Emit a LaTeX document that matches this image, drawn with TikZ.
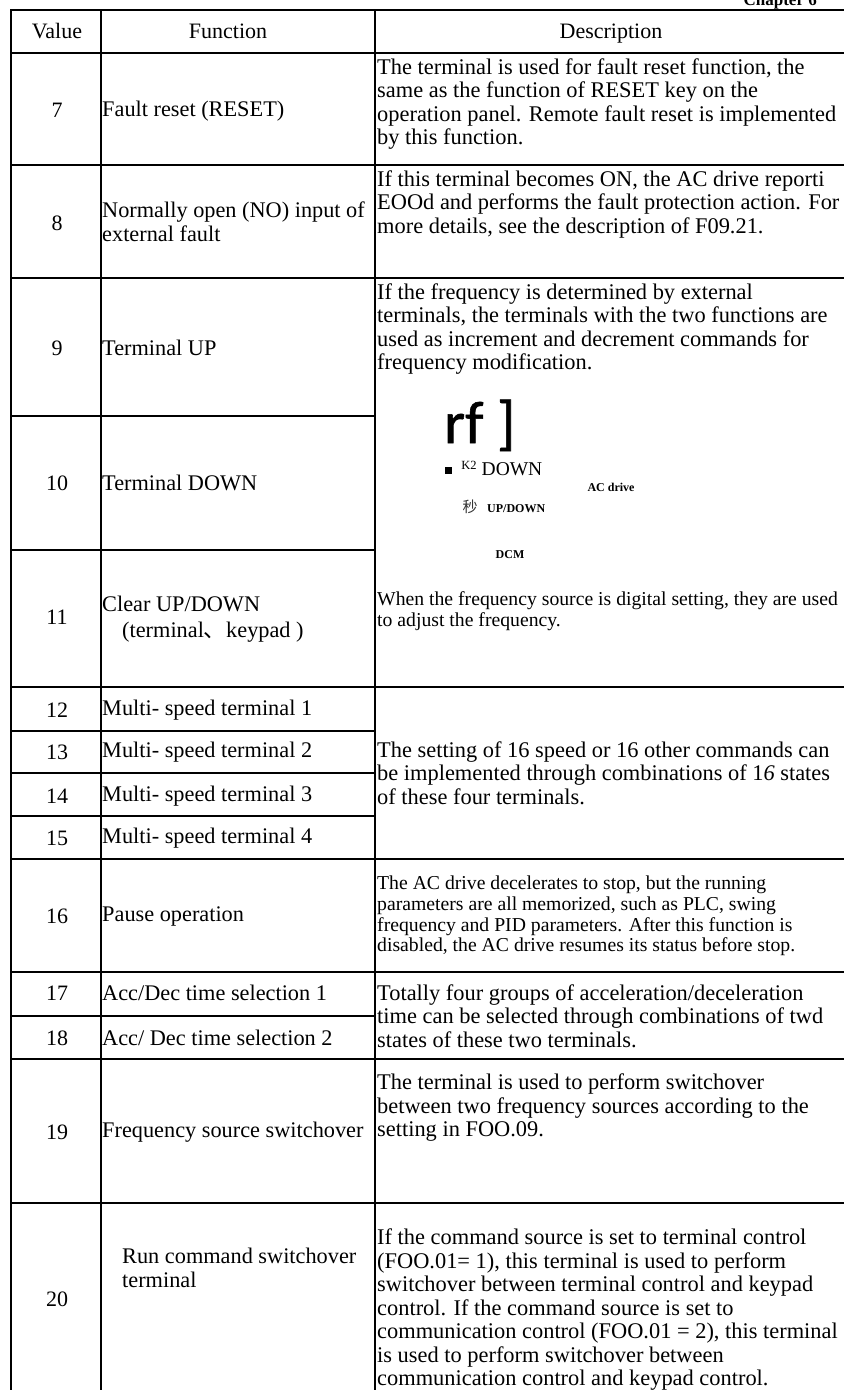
\documentclass[tikz,border=0pt]{standalone}
\usepackage{fontspec}
\setmainfont{Liberation Serif}
\newfontfamily\cjk{Noto Sans CJK SC}
\newfontfamily\bigsans[FakeBold=1]{Carlito}
\usetikzlibrary{positioning}
\tikzstyle{rule} =[line width=2pt, black]
\tikzstyle{valuecell} =[inner sep=0pt, font=\fontsize{22}{23.5}\selectfont]
\tikzstyle{funccell} =[inner sep=0pt, anchor=west, align=left, font=\fontsize{22.3}{23.5}\selectfont]
\tikzstyle{desccell} =[inner sep=0pt, anchor=west, align=left, font=\fontsize{22.4}{23.5}\selectfont]
\tikzstyle{smalldesc} =[inner sep=0pt, anchor=west, align=left, font=\fontsize{19.7}{20.6}\selectfont]
\tikzstyle{boldtag} =[inner sep=0pt, font=\bfseries\fontsize{12}{13}\selectfont]
\begin{document}
\begin{tikzpicture}[x=1pt, y=-1pt]
	\useasboundingbox (0,0) rectangle (844,1390);
	% grid
	\draw[rule] (11,10) -- (11,1390);
	\draw[rule] (101,10) -- (101,1390);
	\draw[rule] (375,10) -- (375,1390);
	\draw[rule] (10,10) -- (844,10);
	\draw[rule] (11,53) -- (844,53);
	\draw[rule] (11,165) -- (844,165);
	\draw[rule] (11,278) -- (844,278);
	\draw[rule] (11,687) -- (844,687);
	\draw[rule] (11,859) -- (844,859);
	\draw[rule] (11,972) -- (844,972);
	\draw[rule] (10,1059) -- (844,1059);
	\draw[rule] (11,1203) -- (844,1203);
	\draw[rule] (11,416) -- (375,416);
	\draw[rule] (11,550) -- (375,550);
	\draw[rule] (11,731) -- (375,731);
	\draw[rule] (11,773) -- (375,773);
	\draw[rule] (11,816) -- (375,816);
	\draw[rule] (11,1016) -- (375,1016);
	% header
	\node[inner sep=0pt, anchor=base east, font=\bfseries\fontsize{17}{18}\selectfont] (chapter) at (817,5) {Chapter 6};
	\node[valuecell, anchor=base] (headvalue) at (57,38) {Value};
	\node[valuecell, anchor=base] (headfunc) at (228,38) {Function};
	\node[valuecell, anchor=base] (headdesc) at (611,38) {Description};
	% values
	\node[valuecell] (v7) at (57,110) {7};
	\node[valuecell] (v8) at (57,223) {8};
	\node[valuecell] (v9) at (57,348) {9};
	\node[valuecell] (v10) at (57,483) {10};
	\node[valuecell] (v11) at (57,617) {11};
	\node[valuecell] (v12) at (57,710) {12};
	\node[valuecell] (v13) at (57,752) {13};
	\node[valuecell] (v14) at (57,796) {14};
	\node[valuecell] (v15) at (57,838) {15};
	\node[valuecell] (v16) at (57,916) {16};
	\node[valuecell] (v17) at (57,993) {17};
	\node[valuecell] (v18) at (57,1038) {18};
	\node[valuecell] (v19) at (57,1132) {19};
	\node[valuecell] (v20) at (57,1299) {20};
	% functions
	\node[funccell] (f7) at (102,111) {Fault reset (RESET)};
	\node[funccell] (f8) at (102,222) {Normally open (NO) input of\\external fault};
	\node[funccell] (f9) at (102,348) {Terminal UP};
	\node[funccell] (f10) at (102,483) {Terminal DOWN};
	\node[funccell] (f11) at (102,619) {Clear UP/DOWN\\[3pt]\hspace*{20pt}(terminal{\cjk 、}keypad )};
	\node[funccell] (f12) at (102,710) {Multi- speed terminal 1};
	\node[funccell] (f13) at (102,752) {Multi- speed terminal 2};
	\node[funccell] (f14) at (102,796) {Multi- speed terminal 3};
	\node[funccell] (f15) at (102,838) {Multi- speed terminal 4};
	\node[funccell] (f16) at (102,916) {Pause operation};
	\node[funccell] (f17) at (102,993) {Acc/Dec time selection 1};
	\node[funccell] (f18) at (102,1038) {Acc/ Dec time selection 2};
	\node[funccell] (f19) at (102,1132) {Frequency source switchover};
	\node[funccell] (f20) at (122,1268) {Run command switchover\\terminal};
	% descriptions
	\node[desccell] (d7) at (377,104) {The terminal is used for fault reset function, the\\same as the function of RESET key on the\\operation panel. Remote fault reset is implemented\\by this function.};
	\node[desccell] (d8) at (377,204) {If this terminal becomes ON, the AC drive reporti\\EOOd and performs the fault protection action. For\\more details, see the description of F09.21.};
	\node[desccell] (d9) at (377,329) {If the frequency is determined by external\\terminals, the terminals with the two functions are\\used as increment and decrement commands for\\frequency modification.};
	\node[inner sep=0pt, anchor=base west, font=\bigsans\fontsize{60}{60}\selectfont] (rf) at (444,443) {rf ]};
	\node[inner sep=0pt, minimum size=7pt, fill=black] (mark) at (448,470) {};
	\node[inner sep=0pt, font=\fontsize{12.5}{13}\selectfont] (k2) at (469,465) {K2};
	\node[inner sep=0pt, font=\fontsize{19.5}{20}\selectfont] (down) at (512,469) {DOWN};
	\node[boldtag] (acdrive) at (611,487) {AC drive};
	\node[inner sep=0pt, font=\cjk\fontsize{15}{16}\selectfont, text=black!80] (miao) at (470,507) {秒};
	\node[boldtag, anchor=west] (updown) at (487,509) {UP/DOWN};
	\node[boldtag] (dcm) at (510,555) {DCM};
	\node[smalldesc] (d11) at (377,611) {When the frequency source is digital setting, they are used\\to adjust the frequency.};
	\node[desccell] (d12) at (377,773) {The setting of 16 speed or 16 other commands can\\be implemented through combinations of 1\textit{6} states\\of these four terminals.};
	\node[smalldesc] (d16) at (377,916) {The AC drive decelerates to stop, but the running\\parameters are all memorized, such as PLC, swing\\frequency and PID parameters. After this function is\\disabled, the AC drive resumes its status before stop.};
	\node[desccell] (d17) at (377,1016) {Totally four groups of acceleration/deceleration\\time can be selected through combinations of twd\\states of these two terminals.};
	\node[desccell] (d19) at (377,1108) {The terminal is used to perform switchover\\between two frequency sources according to the\\setting in FOO.09.};
	\node[desccell] (d20) at (377,1310) {If the command source is set to terminal control\\(FOO.01= 1), this terminal is used to perform\\switchover between terminal control and keypad\\control. If the command source is set to\\communication control (FOO.01 = 2), this terminal\\is used to perform switchover between\\communication control and keypad control.};
\end{tikzpicture}
\end{document}
